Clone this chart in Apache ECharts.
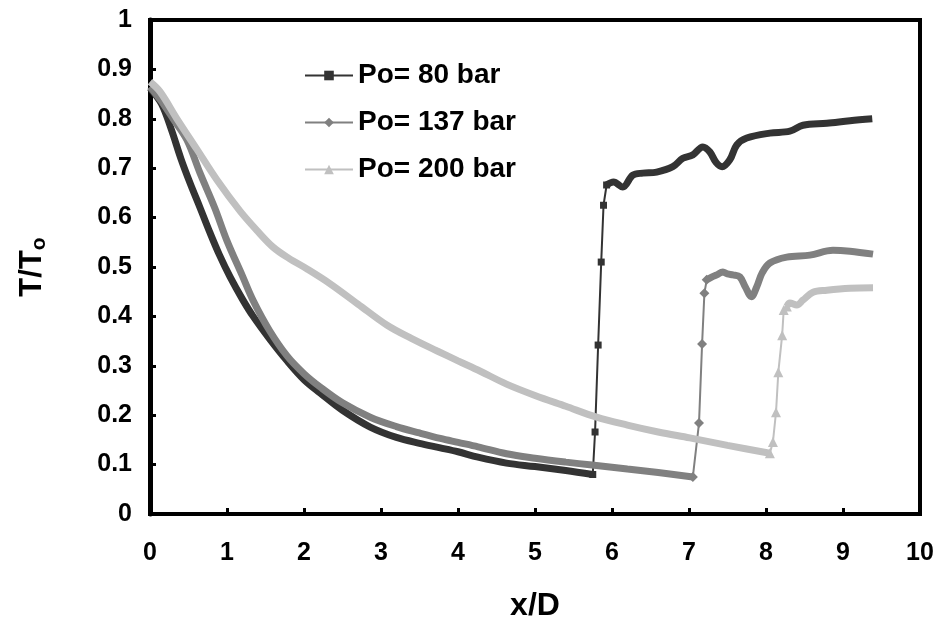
<!DOCTYPE html>
<html>
<head>
<meta charset="utf-8">
<script src="https://cdn.jsdelivr.net/npm/echarts@6/dist/echarts.min.js"></script>
<style>html,body{margin:0;padding:0;background:#fff}#c{width:940px;height:625px}</style>
</head>
<body>
<div id="c"></div>
<script>
// ---- data ----
const seriesNames = ['Po= 80 bar', 'Po= 137 bar', 'Po= 200 bar'];
const xTicks = [0, 1, 2, 3, 4, 5, 6, 7, 8, 9, 10];
const yTicks = [0, 0.1, 0.2, 0.3, 0.4, 0.5, 0.6, 0.7, 0.8, 0.9, 1];

// Po = 80 bar
const decay80 = [[0,0.862],[0.15,0.83],[0.28,0.777],[0.4,0.72],[0.52,0.67],[0.65,0.62],[0.78,0.569],[0.9,0.525],[1.04,0.48],[1.2,0.435],[1.34,0.40],[1.55,0.355],[1.78,0.31],[2.0,0.272],[2.21,0.245],[2.5,0.21],[2.86,0.176],[3.2,0.155],[3.5,0.143],[3.77,0.134],[4.0,0.126],[4.26,0.115],[4.63,0.103],[5.0,0.096],[5.4,0.088],[5.75,0.08]];
const jump80 = [[5.75,0.08],[5.78,0.166],[5.82,0.342],[5.86,0.51],[5.89,0.625],[5.93,0.666]];
const plateau80 = [[5.93,0.666],[6.02,0.672],[6.14,0.662],[6.27,0.686],[6.4,0.69],[6.58,0.692],[6.79,0.703],[6.92,0.72],[7.05,0.727],[7.18,0.743],[7.27,0.733],[7.35,0.712],[7.43,0.703],[7.53,0.717],[7.62,0.747],[7.75,0.761],[8.05,0.771],[8.31,0.775],[8.48,0.787],[8.79,0.791],[9.09,0.796],[9.38,0.80]];

// Po = 137 bar
const decay137 = [[0,0.865],[0.15,0.835],[0.3,0.80],[0.48,0.757],[0.65,0.69],[0.84,0.62],[1.0,0.553],[1.2,0.482],[1.34,0.432],[1.55,0.372],[1.78,0.32],[2.0,0.284],[2.21,0.257],[2.5,0.225],[2.86,0.196],[3.2,0.177],[3.5,0.164],[3.77,0.153],[4.0,0.145],[4.26,0.136],[4.63,0.122],[5.0,0.113],[5.4,0.105],[5.74,0.099],[6.2,0.091],[6.6,0.084],[7.05,0.075]];
const jump137 = [[7.05,0.075],[7.13,0.184],[7.17,0.344],[7.2,0.447],[7.23,0.474]];
const plateau137 = [[7.23,0.474],[7.3,0.48],[7.36,0.484],[7.44,0.49],[7.5,0.486],[7.57,0.484],[7.66,0.48],[7.73,0.46],[7.81,0.44],[7.88,0.46],[7.95,0.488],[8.05,0.508],[8.27,0.52],[8.57,0.524],[8.87,0.534],[9.09,0.532],[9.39,0.526]];

// Po = 200 bar
const decay200 = [[0,0.875],[0.13,0.855],[0.35,0.80],[0.61,0.738],[0.87,0.676],[1.17,0.613],[1.4,0.572],[1.6,0.54],[1.8,0.518],[2.04,0.496],[2.34,0.466],[2.7,0.425],[3.08,0.382],[3.4,0.355],[3.73,0.33],[4.0,0.31],[4.29,0.289],[4.63,0.263],[5.0,0.24],[5.4,0.218],[5.8,0.196],[6.2,0.18],[6.6,0.166],[7.01,0.154],[7.5,0.139],[8.05,0.123]];
const jump200 = [[8.05,0.123],[8.09,0.146],[8.13,0.206],[8.16,0.287],[8.21,0.362],[8.23,0.413],[8.27,0.42]];
const plateau200 = [[8.27,0.42],[8.31,0.427],[8.4,0.423],[8.48,0.433],[8.61,0.449],[8.79,0.453],[9.09,0.457],[9.39,0.458]];

// ---- chart ----
const colors = ['#333333', '#808080', '#c0c0c0'];
const symbols = ['rect', 'diamond', 'triangle'];
const symbolSizes = [7, 10, 10];
const groups = [
  [decay80, jump80, plateau80],
  [decay137, jump137, plateau137],
  [decay200, jump200, plateau200]
];
const FONT = 'Liberation Sans, Arial, sans-serif';

const series = [];
groups.forEach((g, i) => {
  [g[0], g[2]].forEach(d => {
    series.push({
      type: 'line', name: 'dense' + i, data: d, showSymbol: false, smooth: 0.35,
      lineStyle: { color: colors[i], width: 7 }, itemStyle: { color: colors[i] },
      silent: true, z: 2
    });
  });
  series.push({
    type: 'line', name: seriesNames[i], data: g[1], symbol: symbols[i],
    symbolSize: symbolSizes[i], showAllSymbol: true,
    lineStyle: { color: colors[i], width: 2 }, itemStyle: { color: colors[i] }, z: 2
  });
});

const chart = echarts.init(document.getElementById('c'), null, { renderer: 'canvas' });
chart.setOption({
  animation: false,
  backgroundColor: '#fff',
  grid: { left: 150, right: 20, top: 20, bottom: 111, show: true, borderColor: '#000', borderWidth: 4, outerBoundsMode: 'none' },
  legend: {
    data: seriesNames.map(n => ({ name: n })),
    orient: 'vertical', left: 299, top: 55,
    itemWidth: 48, itemHeight: 12, itemGap: 16,
    textStyle: { fontFamily: FONT, fontWeight: 'bold', fontSize: 28, color: '#000', lineHeight: 31 }
  },
  xAxis: {
    type: 'value', min: 0, max: 10, interval: 1,
    name: 'x/D', nameLocation: 'middle', nameGap: 76,
    nameTextStyle: { fontFamily: FONT, fontWeight: 'bold', fontSize: 32, color: '#000' },
    axisLine: { show: true, onZero: false, lineStyle: { color: '#000', width: 4 } },
    axisTick: { show: true, inside: true, length: 6, lineStyle: { color: '#000', width: 3 } },
    axisLabel: { fontFamily: FONT, fontWeight: 'bold', fontSize: 25, color: '#000', margin: 27,
      formatter: v => String(xTicks[Math.round(v)]) },
    splitLine: { show: false }
  },
  yAxis: {
    type: 'value', min: 0, max: 1, interval: 0.1,
    name: '{a|T/T}{b|o}', nameLocation: 'middle', nameGap: 100, nameRotate: 90,
    nameTextStyle: { rich: {
      a: { fontFamily: FONT, fontWeight: 'bold', fontSize: 31, color: '#000' },
      b: { fontFamily: FONT, fontWeight: 'bold', fontSize: 21, color: '#000', padding: [14, 0, 0, 0] }
    } },
    axisLine: { show: true, onZero: false, lineStyle: { color: '#000', width: 5 } },
    axisTick: { show: true, inside: true, length: 6, lineStyle: { color: '#000', width: 3 } },
    axisLabel: { fontFamily: FONT, fontWeight: 'bold', fontSize: 25, color: '#000', margin: 18,
      formatter: v => String(yTicks[Math.round(v * 10)]) },
    splitLine: { show: false }
  },
  series: series
});
</script>
</body>
</html>
